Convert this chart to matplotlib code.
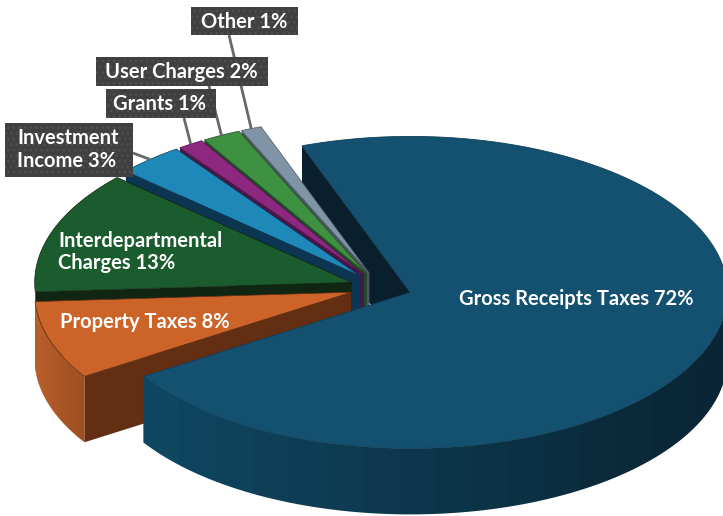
import numpy as np
import matplotlib
matplotlib.use("Agg")
import matplotlib.pyplot as plt
from matplotlib.patches import Polygon, Rectangle
from matplotlib.colors import LinearSegmentedColormap

plt.rcParams['hatch.linewidth'] = 0.8

# counter clockwise, starting from the gap at the back of the big slice
names = ["Other", "User Charges", "Grants", "Investment Income",
         "Interdepartmental Charges", "Property Taxes", "Gross Receipts Taxes"]
shares = [1.05, 1.95, 1.3, 3.4, 12.7, 8.1, 71.5]
shown = ["1%", "2%", "1%", "3%", "13%", "8%", "72%"]
top_colors = ["#7f95a5", "#3e9140", "#8e2780", "#1e88b8", "#1a5c2e", "#cc6329", "#14506f"]
wall_colors = ["#4c5662", "#1f4a25", "#4a1548", "#0b3550", "#102612", "#632e12", "#0a1f2e"]

# projected pie, in pixels of the picture
cx, cy = 381.0, 287.5
rx, ry = 317.0, 156.0
depth = 66.0
explode = 0.098
start = 110.0

fig = plt.figure(figsize=(7.23, 5.16), dpi=100)
ax = fig.add_axes([0, 0, 1, 1])
ax.set_xlim(0, 723)
ax.set_ylim(516, 0)
ax.axis("off")


def rim(apex, t):
    t = np.radians(t)
    return np.column_stack([apex[0] + rx*np.cos(t), apex[1] - ry*np.sin(t)])


def side(apex, t0, t1, c0, c1, z, bands):
    # outer wall, coloured in vertical bands left to right
    top = rim(apex, np.linspace(t0, t1, 120))
    poly = Polygon(np.vstack([top, (top + [0, depth])[::-1]]), fc="none", ec="none", zorder=z)
    ax.add_patch(poly)
    x0, x1 = top[:, 0].min(), top[:, 0].max()
    cmap = LinearSegmentedColormap.from_list("band", [c0, c1], N=bands)
    im = ax.imshow(np.linspace(0, 1, bands).reshape(1, -1), cmap=cmap, aspect="auto",
                   extent=(x0, x1, 516, 0), interpolation="nearest", zorder=z)
    im.set_clip_path(poly)


slices = []
a = start
for s in shares:
    b = a + s*3.6
    mid = np.radians((a+b)/2)
    apex = (cx + explode*rx*np.cos(mid), cy - explode*ry*np.sin(mid))
    slices.append((a, b, apex))
    a = b

# back wall of the big slice goes under all the others
a0, b0, big = slices[-1]
corner = rim(big, b0)[0]
ax.add_patch(Polygon([corner, big, (big[0], big[1]+depth), (corner[0], corner[1]+depth)],
                     fc=wall_colors[-1], ec="none", zorder=1))

for i in range(6):
    t0, t1, apex = slices[i]
    z = 2 + i
    # radial wall on the lower side of the slice
    end = rim(apex, t1)[0]
    ax.add_patch(Polygon([apex, end, (end[0], end[1]+depth), (apex[0], apex[1]+depth)],
                         fc=wall_colors[i], ec="none", zorder=z))
    # side of the slice that faces us
    if t1 > 180:
        side(apex, max(t0, 180), t1, "#b65e2a", "#a04f22", z, 6)
    ax.add_patch(Polygon(np.vstack([[apex], rim(apex, np.linspace(t0, t1, 60))]),
                         fc=top_colors[i], ec=wall_colors[i], lw=0.5, zorder=z+0.5))

# big slice: banded side, then top
side(big, a0, 362, "#0f4660", "#0a2535", 9, 16)
ax.add_patch(Polygon(np.vstack([[big], rim(big, np.linspace(a0, b0, 300))]),
                     fc=top_colors[-1], ec="#0f4059", lw=0.6, zorder=10))
ax.set_xlim(0, 723)
ax.set_ylim(516, 0)

# leaders run to the middle of the rim of the small slices
leader_from = [(229, 35), (205, 70), (184, 118), (133, 153)]
for i, p0 in enumerate(leader_from):
    t0, t1, apex = slices[i]
    p1 = rim(apex, (t0+t1)/2)[0]
    ax.plot([p0[0], p1[0]], [p0[1], p1[1]], color="#686868", lw=2, zorder=11, solid_capstyle="butt")

boxes = [(191, 7, 107, 28), (96, 57, 172, 29), (106, 89, 110, 29), (5, 123, 128, 54)]
for k, (x, y, w, h) in enumerate(boxes):
    ax.add_patch(Rectangle((x, y), w, h, fc="#404040", ec="#525252", hatch="...", lw=0, zorder=12+k))

font = dict(family="Lato", weight="bold", color="white", va="center", ha="left", zorder=20)
small = 14.5
ax.text(201, 22, names[0]+" "+shown[0], fontsize=small, **font)
ax.text(105, 72, names[1]+" "+shown[1], fontsize=small, **font)
ax.text(113, 104, names[2]+" "+shown[2], fontsize=small, **font)
ax.text(17, 138, "Investment", fontsize=small, **font)
ax.text(17, 161, "Income "+shown[3], fontsize=small, **font)
ax.text(58, 241, "Interdepartmental", fontsize=small, **font)
ax.text(58, 263, "Charges "+shown[4], fontsize=small, **font)
ax.text(60, 322, names[5]+" "+shown[5], fontsize=small, **font)
ax.text(459, 299, names[6]+" "+shown[6], fontsize=small, **font)

fig.savefig("out.png", dpi=100)
